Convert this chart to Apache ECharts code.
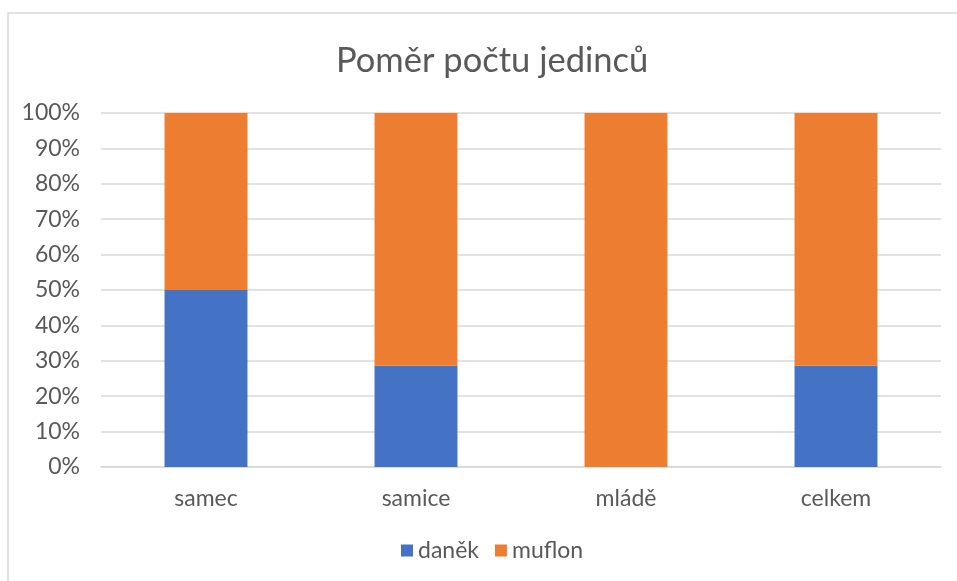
<!DOCTYPE html>
<html>
<head>
<meta charset="utf-8">
<script src="https://cdn.jsdelivr.net/npm/echarts@6/dist/echarts.min.js"></script>
<style>
  html, body { margin: 0; padding: 0; background: #fff; }
  #chart { width: 957px; height: 581px; }
</style>
</head>
<body>
<div id="chart"></div>
<script>
// data
const categories = ['samec', 'samice', 'mládě', 'celkem']
const danek = [50, 28.6, 0, 28.6]
const muflon = [50, 71.4, 100, 71.4]

const font = 'Lato, "Open Sans", sans-serif'
const myChart = echarts.init(document.getElementById('chart'))
const option = {
  textStyle: { fontFamily: font },
  title: {
    text: 'Poměr počtu jedinců',
    left: 331,
    top: 38,
    textStyle: { fontFamily: font, fontSize: 34.5, fontWeight: 'normal', color: '#595959' }
  },
  graphic: [{
    type: 'rect',
    shape: { x: 8, y: 13, width: 1200, height: 1000 },
    style: { fill: 'none', stroke: '#d9d9d9', lineWidth: 1.5 },
    silent: true
  }],
  legend: {
    data: ['daněk', 'muflon'],
    bottom: 14,
    left: 396,
    itemWidth: 12,
    itemHeight: 12,
    itemGap: 16,
    icon: 'rect',
    textStyle: { fontFamily: font, fontSize: 23, color: '#595959' }
  },
  grid: {
    left: 101,
    right: 16,
    top: 113,
    bottom: 114
  },
  xAxis: {
    type: 'category',
    data: categories,
    axisLine: { lineStyle: { color: '#d9d9d9', width: 1.5 } },
    axisTick: { show: false },
    axisLabel: { fontFamily: font, fontSize: 23, color: '#595959', margin: 20 }
  },
  yAxis: {
    type: 'value',
    min: 0,
    max: 100,
    interval: 10,
    axisLine: { show: false },
    axisTick: { show: false },
    splitLine: { lineStyle: { color: '#d9d9d9', width: 1.5 } },
    axisLabel: { fontFamily: font, fontSize: 23, color: '#595959', margin: 21, formatter: '{value}%' }
  },
  series: [
    {
      name: 'daněk',
      type: 'bar',
      stack: 'total',
      barWidth: '39.5%',
      itemStyle: { color: '#4472C4' },
      data: danek
    },
    {
      name: 'muflon',
      type: 'bar',
      stack: 'total',
      itemStyle: { color: '#ED7D31' },
      data: muflon
    }
  ]
}
myChart.setOption(option)
</script>
</body>
</html>
